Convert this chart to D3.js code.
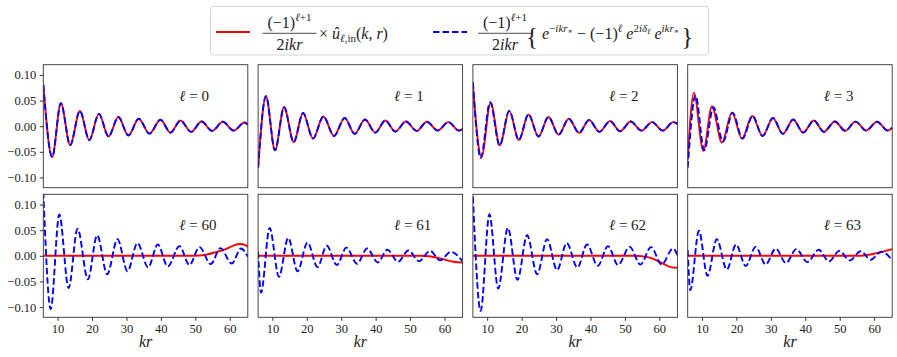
<!DOCTYPE html>
<html>
<head>
<meta charset="utf-8">
<script src="https://cdn.jsdelivr.net/npm/d3@7"></script>
<style>
  body { margin: 0; background: #fff; }
  svg { display: block; }
  text { font-family: "Liberation Serif", "DejaVu Serif", serif; fill: #222; }
</style>
</head>
<body>
<script>
// curve values: [kr, value] at turning points / bends
const blue0 = [[5.85,0.081],[8.42,-0.060],[10.95,0.045],[13.66,-0.037],[16.48,0.030],[19.2,-0.027],[22.0,0.024],[24.8,-0.020],[27.65,0.018],[30.56,-0.018],[33.57,0.0145],[36.67,-0.0145],[39.9,0.0125],[42.8,-0.0125],[45.7,0.011],[48.8,-0.011],[51.8,0.0092],[54.9,-0.0092],[58.0,0.0086],[61.1,-0.0086],[64.3,0.0072],[65.25,0.003]];
const red0 = [[5.85,0.081],[8.42,-0.060],[10.95,0.045],[13.66,-0.037],[16.48,0.030],[19.2,-0.027],[22.0,0.024],[24.8,-0.020],[27.65,0.018],[30.56,-0.018],[33.57,0.0145],[36.67,-0.0145],[39.9,0.0125],[42.8,-0.0125],[45.7,0.011],[48.8,-0.011],[51.8,0.0092],[54.9,-0.0092],[58.0,0.0086],[61.1,-0.0086],[64.3,0.0072],[65.25,0.003]];

const blue1 = [[5.85,-0.081],[8.13,0.0585],[10.75,-0.047],[13.4,0.037],[16.2,-0.031],[18.9,0.0257],[21.8,-0.024],[24.8,0.019],[27.9,-0.019],[31.0,0.016],[33.9,-0.015],[36.9,0.013],[39.9,-0.0125],[42.8,0.011],[45.7,-0.0105],[48.8,0.0092],[51.9,-0.0092],[54.9,0.0086],[58.0,-0.0086],[61.1,0.008],[64.2,-0.0086],[65.25,-0.005]];
const red1 = [[5.85,-0.081],[8.13,0.0585],[10.75,-0.047],[13.4,0.037],[16.2,-0.031],[18.9,0.0257],[21.8,-0.024],[24.8,0.019],[27.9,-0.019],[31.0,0.016],[33.9,-0.015],[36.9,0.013],[39.9,-0.0125],[42.8,0.011],[45.7,-0.0105],[48.8,0.0092],[51.9,-0.0092],[54.9,0.0086],[58.0,-0.0086],[61.1,0.008],[64.2,-0.0086],[65.25,-0.005]];

const blue2 = [[5.85,0.086],[8.13,-0.062],[10.85,0.047],[13.6,-0.0375],[16.4,0.030],[19.2,-0.027],[22.0,0.023],[24.9,-0.020],[27.8,0.018],[30.75,-0.0165],[33.7,0.0145],[36.7,-0.013],[39.6,0.012],[42.6,-0.011],[45.7,0.010],[48.6,-0.010],[51.7,0.0092],[54.8,-0.0086],[57.9,0.008],[61.0,-0.0086],[64.05,0.008],[65.25,0.0046]];
const red2 = [[5.85,0.080],[8.35,-0.060],[11.0,0.046],[13.7,-0.0375],[16.4,0.030],[19.2,-0.027],[22.0,0.023],[24.9,-0.020],[27.8,0.018],[30.75,-0.0165],[33.7,0.0145],[36.7,-0.013],[39.6,0.012],[42.6,-0.011],[45.7,0.010],[48.6,-0.010],[51.7,0.0092],[54.8,-0.0086],[57.9,0.008],[61.0,-0.0086],[64.05,0.008],[65.25,0.0046]];

const blue3 = [[5.85,-0.081],[8.13,0.060],[10.65,-0.047],[13.3,0.037],[16.1,-0.030],[18.9,0.026],[21.8,-0.024],[24.7,0.020],[27.6,-0.019],[30.6,0.016],[33.5,-0.015],[36.5,0.013],[39.4,-0.0125],[42.5,0.011],[45.4,-0.011],[48.6,0.0092],[51.6,-0.009],[54.6,0.009],[57.7,-0.0086],[60.85,0.0086],[63.95,-0.0086],[65.25,-0.003]];
const red3 = [[5.85,-0.066],[7.65,0.065],[10.4,-0.048],[12.9,0.039],[15.8,-0.032],[18.7,0.027],[21.6,-0.024],[24.6,0.020],[27.6,-0.019],[30.6,0.016],[33.5,-0.015],[36.5,0.013],[39.4,-0.0125],[42.5,0.011],[45.4,-0.011],[48.6,0.0092],[51.6,-0.009],[54.6,0.009],[57.7,-0.0086],[60.85,0.0086],[63.95,-0.0086],[65.25,-0.003]];

const blue60 = [[5.85,0.125],[8.0,-0.104],[10.5,0.0805],[13.2,-0.063],[15.8,0.053],[18.8,-0.046],[21.5,0.040],[24.4,-0.036],[27.4,0.0325],[30.3,-0.030],[33.2,0.025],[36.3,-0.0227],[39.1,0.022],[42.0,-0.0208],[45.4,0.0188],[48.3,-0.018],[51.2,0.017],[54.5,-0.016],[57.3,0.015],[60.6,-0.015],[63.3,0.0143],[65.25,-0.002]];
const red60 = [[5.85,0],[48,0],[51,0.0005],[53.4,0.0026],[56.3,0.0078],[59.2,0.014],[61.1,0.020],[62.9,0.023],[64.6,0.021],[65.25,0.017]];

const blue61 = [[5.85,0.008],[6.7,-0.072],[9.2,0.0545],[11.9,-0.041],[14.6,0.035],[17.3,-0.030],[20.2,0.026],[23.1,-0.022],[25.8,0.0195],[28.7,-0.018],[31.5,0.016],[34.6,-0.0156],[37.5,0.0143],[40.6,-0.013],[43.4,0.0117],[46.5,-0.0117],[49.5,0.0104],[52.6,-0.0104],[55.8,0.0097],[58.7,-0.009],[61.8,0.0078],[65.25,-0.0104]];
const red61 = [[5.85,0],[53,0],[55.5,-0.001],[58.7,-0.005],[62.6,-0.0117],[65.25,-0.013]];

const blue62 = [[5.85,0.115],[8.1,-0.108],[10.65,0.081],[13.2,-0.064],[16.0,0.0545],[18.8,-0.047],[21.6,0.040],[24.5,-0.036],[27.4,0.0325],[30.3,-0.028],[33.1,0.025],[36.2,-0.023],[39.0,0.022],[42.1,-0.0195],[45.1,0.0188],[48.0,-0.018],[51.4,0.0175],[54.5,-0.017],[57.6,0.017],[60.65,-0.017],[64.0,0.0143],[65.25,0.001]];
const red62 = [[5.85,0],[53,0],[55,-0.001],[57.5,-0.004],[60.4,-0.013],[63.3,-0.022],[65.25,-0.0234]];

const blue63 = [[5.85,0.011],[6.6,-0.067],[9.1,0.049],[11.6,-0.039],[14.3,0.0325],[17.2,-0.027],[19.9,0.022],[22.7,-0.020],[25.6,0.0175],[28.5,-0.017],[31.4,0.0143],[34.4,-0.0143],[37.4,0.013],[40.6,-0.0123],[43.9,0.0117],[46.9,-0.011],[49.9,0.0097],[52.9,-0.009],[56.1,0.009],[59.0,-0.0078],[62.1,0.0078],[65.25,-0.0084]];
const red63 = [[5.85,0],[55,0],[57.5,0.001],[59.4,0.003],[62.3,0.0078],[65.25,0.013]];

const ells = ["0", "1", "2", "3", "60", "61", "62", "63"];
const redSeries = [red0, red1, red2, red3, red60, red61, red62, red63];
const blueSeries = [blue0, blue1, blue2, blue3, blue60, blue61, blue62, blue63];
const xTicks = [10, 20, 30, 40, 50, 60];
const yTicks = [-0.10, -0.05, 0.00, 0.05, 0.10];
const xDomain = [5.85, 65.25];
const yDomain = [-0.12, 0.12];

// layout
const width = 897;
const height = 357;
const left0 = 43.3;
const top0 = 64.7;
const panelW = 204.5;
const panelH = 123;
const gapX = 10.3;
const gapY = 6.6;
const serif = "Liberation Serif, DejaVu Serif, serif";

const svg = d3.select("body").append("svg")
  .attr("width", width)
  .attr("height", height);

const xScale = d3.scaleLinear().domain(xDomain).range([0, panelW]);
const yScale = d3.scaleLinear().domain(yDomain).range([panelH, 0]);

const line = d3.line()
  .x(function(d) { return xScale(d[0]); })
  .y(function(d) { return yScale(d[1]); })
  .curve(d3.curveMonotoneX);

svg.append("defs").append("clipPath")
  .attr("id", "panelClip")
  .append("rect")
  .attr("width", panelW)
  .attr("height", panelH);

ells.forEach(function(ell, i) {
  const col = i % 4;
  const row = Math.floor(i / 4);
  const g = svg.append("g")
    .attr("transform", "translate(" + (left0 + col * (panelW + gapX)) + "," + (top0 + row * (panelH + gapY)) + ")");

  const plot = g.append("g").attr("clip-path", "url(#panelClip)");
  plot.append("path")
    .datum(redSeries[i])
    .attr("d", line)
    .attr("fill", "none")
    .attr("stroke", "#ff0000")
    .attr("stroke-width", 1.9);
  plot.append("path")
    .datum(blueSeries[i])
    .attr("d", line)
    .attr("fill", "none")
    .attr("stroke", "#0000ff")
    .attr("stroke-width", 1.9)
    .attr("stroke-dasharray", "6.5,3");

  g.append("rect")
    .attr("width", panelW)
    .attr("height", panelH)
    .attr("fill", "none")
    .attr("stroke", "#333")
    .attr("stroke-width", 0.9);

  const label = g.append("text")
    .attr("x", 136)
    .attr("y", 36)
    .style("font-size", "15px");
  label.append("tspan").style("font-style", "italic").text("ℓ");
  label.append("tspan").text(" = " + ell);

  if (col === 0) {
    const yAxis = g.append("g")
      .call(d3.axisLeft(yScale).tickValues(yTicks).tickSize(3.5).tickPadding(3.5).tickFormat(d3.format(".2f")))
      .attr("font-family", serif)
      .attr("font-size", 12.5);
    yAxis.select(".domain").remove();
    yAxis.selectAll("line").attr("stroke", "#333");
    yAxis.selectAll("text").attr("fill", "#222");
  }
  if (row === 1) {
    const xAxis = g.append("g")
      .attr("transform", "translate(0," + panelH + ")")
      .call(d3.axisBottom(xScale).tickValues(xTicks).tickSize(3.5).tickPadding(3.5))
      .attr("font-family", serif)
      .attr("font-size", 12.5);
    xAxis.select(".domain").remove();
    xAxis.selectAll("line").attr("stroke", "#333");
    xAxis.selectAll("text").attr("fill", "#222");

    g.append("text")
      .attr("x", panelW / 2)
      .attr("y", panelH + 30)
      .attr("text-anchor", "middle")
      .style("font-size", "16px")
      .style("font-style", "italic")
      .text("kr");
  }
});

// legend
const legend = svg.append("g");
legend.append("rect")
  .attr("x", 210.5).attr("y", 6.5)
  .attr("width", 498).attr("height", 48.5)
  .attr("rx", 3)
  .attr("fill", "#fff")
  .attr("stroke", "#d6d6d6");

legend.append("line")
  .attr("x1", 216).attr("x2", 250).attr("y1", 32).attr("y2", 32)
  .attr("stroke", "#ff0000").attr("stroke-width", 1.9);
legend.append("line")
  .attr("x1", 433).attr("x2", 467).attr("y1", 32).attr("y2", 32)
  .attr("stroke", "#0000ff").attr("stroke-width", 1.9)
  .attr("stroke-dasharray", "6.5,3");

// parts: [text, dy, font size, italic]
function addMath(x, y, parts, size, anchor) {
  const t = legend.append("text")
    .attr("x", x).attr("y", y)
    .attr("text-anchor", anchor || "start")
    .style("font-size", size + "px");
  parts.forEach(function(p) {
    t.append("tspan")
      .attr("dy", p[1] || 0)
      .style("font-size", (p[2] || size) + "px")
      .style("font-style", p[3] ? "italic" : "normal")
      .text(p[0]);
  });
  return t;
}

function addFraction(cx) {
  addMath(cx, 28, [["(−1)"], ["ℓ", -7, 11, true], ["+1", 0, 11]], 16, "middle");
  legend.append("line")
    .attr("x1", cx - 27).attr("x2", cx + 27)
    .attr("y1", 33.3).attr("y2", 33.3)
    .attr("stroke", "#222").attr("stroke-width", 0.8);
  addMath(cx, 50, [["2"], ["ikr", 0, null, true]], 16, "middle");
}

addFraction(289.5);
addMath(319, 38.5, [
  ["× "], ["û", 0, null, true], ["ℓ", 3.5, 11, true], [",in", 0, 11], ["(", -3.5], ["k", 0, null, true],
  [", "], ["r", 0, null, true], [")"]
], 16);

addFraction(505);
addMath(526, 44.5, [["{"]], 25);
const body = addMath(542, 38.5, [
  ["e", 0, null, true], ["−", -7, 11], ["ikr", 0, 11, true], ["∗", 2.5, 8],
  [" − (−1)", 4.5], ["ℓ", -7, 11, true], [" "], ["e", 7, null, true], ["2", -7, 11], ["iδ", 0, 11, true], ["ℓ", 2.5, 8, true],
  [" "], ["e", 4.5, null, true], ["ikr", -7, 11, true], ["∗", 2.5, 8]
], 16);
const bb = body.node().getBBox();
addMath(bb.x + bb.width + 2, 44.5, [["}"]], 25);
</script>
</body>
</html>
